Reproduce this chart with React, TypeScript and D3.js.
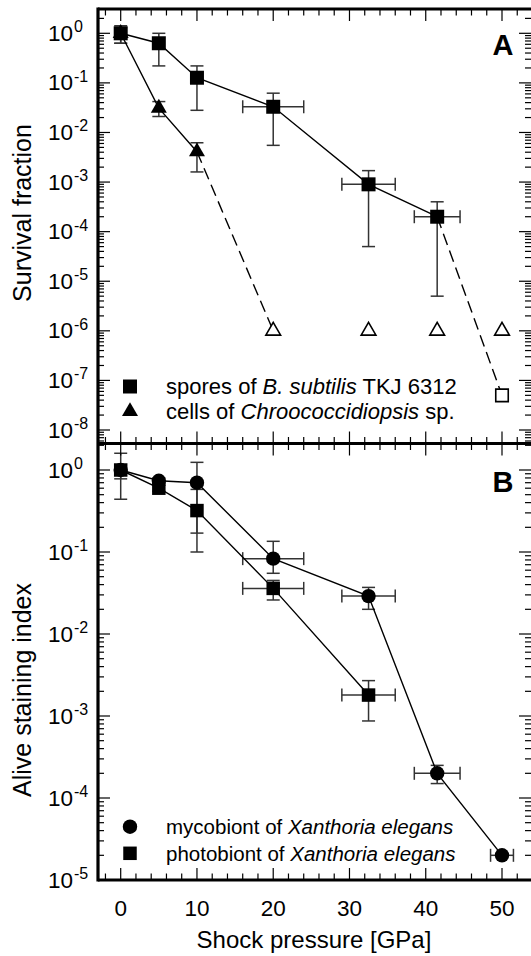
import React from "react";
import * as d3 from "d3";

// ---------- data ----------
const pressureTicks = [0, 10, 20, 30, 40, 50];

// Panel A: spores of B. subtilis TKJ 6312
const sporeP = [0, 5, 10, 20, 32.5, 41.5];
const sporeS = [1.0, 0.63, 0.127, 0.033, 0.0009, 0.0002];
const sporeLo = [0.63, 0.22, 0.028, 0.0055, 5e-5, 5e-6];
const sporeHi = [1.42, 1.0, 0.22, 0.062, 0.0017, 0.0004];
const sporePErr = [0, 0, 0, 4, 3.5, 3];
const sporeNDP = [50];
const sporeNDS = [5e-8];

// Panel A: cells of Chroococcidiopsis sp.
const cellP = [0, 5, 10];
const cellS = [1.0, 0.031, 0.0041];
const cellLo = [0.63, 0.021, 0.0016];
const cellHi = [1.3, 0.042, 0.0062];
const cellNDP = [20, 32.5, 41.5, 50];
const cellNDS = [1e-6, 1e-6, 1e-6, 1e-6];

// Panel B: mycobiont of Xanthoria elegans
const mycoP = [0, 5, 10, 20, 32.5, 41.5, 50];
const mycoS = [1.0, 0.74, 0.7, 0.083, 0.029, 0.0002, 0.00002];
const mycoLo = [0.78, 0.65, 0.17, 0.055, 0.02, 0.00015, 0.00002];
const mycoHi = [1.0, 0.8, 1.24, 0.135, 0.037, 0.00025, 0.00002];
const mycoPErr = [0, 0, 0, 4, 3.5, 3, 1.5];

// Panel B: photobiont of Xanthoria elegans
const photoP = [0, 5, 10, 20, 32.5];
const photoS = [1.0, 0.6, 0.32, 0.036, 0.0018];
const photoLo = [0.44, 0.55, 0.1, 0.026, 0.00087];
const photoHi = [1.6, 0.65, 0.58, 0.045, 0.0027];
const photoPErr = [0, 0, 0, 4, 3.5];

// ---------- layout ----------
const W = 531;
const H = 956;
const LEFT = 98;
const RIGHT = 531;
const TOP = 9;
const MID = 443.5;
const BOTTOM = 880;
const FONT = "'Liberation Sans', Arial, Helvetica, sans-serif";
const ERR = "#333";

const x = d3.scaleLinear().domain([0, 50]).range([120.7, 502]);
const yA = d3.scaleLog().domain([1, 1e-8]).range([33.3, 430]);
const yB = d3.scaleLog().domain([1, 1e-5]).range([470, 880]);

const isPow10 = (v: number) => Math.abs(Math.log10(v) - Math.round(Math.log10(v))) < 1e-9;

function YAxis({ y, top, bottom }: { y: any; top: number; bottom: number }) {
  const ext = d3.scaleLog().domain([y.invert(bottom), y.invert(top)]);
  const ticks = ext.ticks().filter((v: number) => y(v) > top + 1 && y(v) < bottom - 0.5);
  const majors = y.ticks().filter(isPow10);
  return (
    <g>
      {ticks.map((v: number, i: number) => {
        const yy = y(v);
        const len = isPow10(v) ? 12 : 6;
        return (
          <g key={i}>
            <line x1={LEFT} x2={LEFT + len} y1={yy} y2={yy} stroke="#000" strokeWidth={1.2} />
            <line x1={RIGHT} x2={RIGHT - len} y1={yy} y2={yy} stroke="#000" strokeWidth={1.2} />
          </g>
        );
      })}
      {majors.map((v: number, i: number) => {
        const yy = y(v);
        const e = Math.round(Math.log10(v));
        return (
          <g key={"l" + i} fontFamily={FONT}>
            <text x={73} y={yy + 7.5} fontSize={22.5} textAnchor="end">10</text>
            <text x={74} y={yy - 1} fontSize={16} textAnchor="start">{e === 0 ? "0" : "-" + Math.abs(e)}</text>
          </g>
        );
      })}
    </g>
  );
}

function XTicks() {
  const minor = d3.range(-2, 53, 2);
  return (
    <g>
      {minor.map((v, i) => {
        const xx = x(v);
        const major = v % 10 === 0;
        const len = major ? 12 : 6.5;
        return (
          <g key={i} stroke="#000" strokeWidth={1.2}>
            <line x1={xx} x2={xx} y1={TOP} y2={TOP + len} />
            <line x1={xx} x2={xx} y1={MID - len} y2={MID + len} />
            <line x1={xx} x2={xx} y1={BOTTOM} y2={BOTTOM - len} />
          </g>
        );
      })}
      {pressureTicks.map((v, i) => (
        <text key={"t" + i} x={x(v)} y={916} fontSize={22.5} fontFamily={FONT} textAnchor="middle">
          {v}
        </text>
      ))}
    </g>
  );
}

function ErrorBars({ px, py, lo, hi, pe, y }: any) {
  const cap = 6.5;
  return (
    <g stroke={ERR} strokeWidth={1.5} fill="none">
      {px.map((p: number, i: number) => {
        const cx = x(p);
        const cy = y(py[i]);
        const parts = [];
        if (lo[i] !== hi[i]) {
          const y1 = y(lo[i]);
          const y2 = y(hi[i]);
          parts.push(<line key="v" x1={cx} x2={cx} y1={y1} y2={y2} />);
          parts.push(<line key="c1" x1={cx - cap} x2={cx + cap} y1={y1} y2={y1} />);
          parts.push(<line key="c2" x1={cx - cap} x2={cx + cap} y1={y2} y2={y2} />);
        }
        if (pe && pe[i] > 0) {
          const x1 = x(p - pe[i]);
          const x2 = x(p + pe[i]);
          parts.push(<line key="h" x1={x1} x2={x2} y1={cy} y2={cy} />);
          parts.push(<line key="h1" x1={x1} x2={x1} y1={cy - cap} y2={cy + cap} />);
          parts.push(<line key="h2" x1={x2} x2={x2} y1={cy - cap} y2={cy + cap} />);
        }
        return <g key={i}>{parts}</g>;
      })}
    </g>
  );
}

function Markers({ px, py, y, type, size, fill }: any) {
  const path = d3.symbol().type(type).size(size)() as string;
  return (
    <g>
      {px.map((p: number, i: number) => (
        <path
          key={i}
          d={path}
          transform={`translate(${x(p)},${y(py[i])})`}
          fill={fill ? "#000" : "#fff"}
          stroke="#000"
          strokeWidth={fill ? 0 : 1.6}
        />
      ))}
    </g>
  );
}

function SeriesLine({ px, py, y, dash }: any) {
  const line = d3
    .line<number>()
    .x((_, i) => x(px[i]))
    .y((v) => y(v));
  return <path d={line(py) as string} fill="none" stroke="#000" strokeWidth={1.4} strokeDasharray={dash} />;
}

const SQ_A = 14 * 14;
const TRI = (Math.sqrt(3) / 4) * 16 * 16;
const SQ_B = 13.5 * 13.5;
const CIRC = Math.PI * 7.2 * 7.2;

export default function App() {
  const symTri = d3.symbolTriangle;
  const symSq = d3.symbolSquare;
  const symC = d3.symbolCircle;
  return (
    <svg width={W} height={H} style={{ position: "absolute", left: 0, top: 0, background: "#fff" }}>
      <rect x={0} y={0} width={W} height={H} fill="#fff" />
      {/* Panel A */}
      <SeriesLine px={[cellP[2], cellNDP[0]]} py={[cellS[2], cellNDS[0]]} y={yA} dash="12,6" />
      <SeriesLine px={[sporeP[5], sporeNDP[0]]} py={[sporeS[5], sporeNDS[0]]} y={yA} dash="12,6" />
      <ErrorBars px={sporeP} py={sporeS} lo={sporeLo} hi={sporeHi} pe={sporePErr} y={yA} />
      <ErrorBars px={cellP} py={cellS} lo={cellLo} hi={cellHi} pe={null} y={yA} />
      <SeriesLine px={sporeP} py={sporeS} y={yA} />
      <SeriesLine px={cellP} py={cellS} y={yA} />
      <Markers px={cellP} py={cellS} y={yA} type={symTri} size={TRI} fill />
      <Markers px={sporeP} py={sporeS} y={yA} type={symSq} size={SQ_A} fill />
      <Markers px={cellNDP} py={cellNDS} y={yA} type={symTri} size={TRI * 0.85} fill={false} />
      <Markers px={sporeNDP} py={sporeNDS} y={yA} type={symSq} size={12.5 * 12.5} fill={false} />

      {/* Panel B */}
      <ErrorBars px={mycoP} py={mycoS} lo={mycoLo} hi={mycoHi} pe={mycoPErr} y={yB} />
      <ErrorBars px={photoP} py={photoS} lo={photoLo} hi={photoHi} pe={photoPErr} y={yB} />
      <SeriesLine px={mycoP} py={mycoS} y={yB} />
      <SeriesLine px={photoP} py={photoS} y={yB} />
      <Markers px={mycoP} py={mycoS} y={yB} type={symC} size={CIRC} fill />
      <Markers px={photoP} py={photoS} y={yB} type={symSq} size={SQ_B} fill />

      {/* Axes */}
      <YAxis y={yA} top={TOP} bottom={MID} />
      <YAxis y={yB} top={MID} bottom={BOTTOM} />
      <XTicks />
      <g stroke="#000" strokeWidth={3.2} fill="none">
        <line x1={LEFT} x2={LEFT} y1={TOP - 1.6} y2={BOTTOM + 1.6} />
        <line x1={LEFT} x2={W} y1={TOP} y2={TOP} />
        <line x1={LEFT} x2={W} y1={MID} y2={MID} />
        <line x1={LEFT} x2={W} y1={BOTTOM} y2={BOTTOM} />
      </g>

      {/* Panel letters */}
      <text x={503} y={55} fontSize={29} fontWeight="bold" fontFamily={FONT} textAnchor="middle">A</text>
      <text x={503} y={492} fontSize={29} fontWeight="bold" fontFamily={FONT} textAnchor="middle">B</text>

      {/* Legend A */}
      <g fontFamily={FONT} fontSize={22}>
        <path d={d3.symbol().type(symSq).size(14 * 14)() as string} transform="translate(130,386.5)" fill="#000" />
        <text x={166} y={394}>
          spores of <tspan fontStyle="italic">B. subtilis</tspan> TKJ 6312
        </text>
        <path d={d3.symbol().type(symTri).size(TRI)() as string} transform="translate(130,411.5)" fill="#000" />
        <text x={166} y={419}>
          cells of <tspan fontStyle="italic">Chroococcidiopsis</tspan> sp.
        </text>
      </g>

      {/* Legend B */}
      <g fontFamily={FONT} fontSize={20.5}>
        <path d={d3.symbol().type(symC).size(CIRC)() as string} transform="translate(130,826.7)" fill="#000" />
        <text x={166} y={834}>
          mycobiont of <tspan fontStyle="italic">Xanthoria elegans</tspan>
        </text>
        <path d={d3.symbol().type(symSq).size(SQ_B)() as string} transform="translate(130,853.3)" fill="#000" />
        <text x={166} y={860.6}>
          photobiont of <tspan fontStyle="italic">Xanthoria elegans</tspan>
        </text>
      </g>

      {/* Axis titles */}
      <text x={314} y={948} fontSize={24} fontFamily={FONT} textAnchor="middle">Shock pressure [GPa]</text>
      <text transform="translate(31,213) rotate(-90)" fontSize={25} fontFamily={FONT} textAnchor="middle">Survival fraction</text>
      <text transform="translate(31,690) rotate(-90)" fontSize={25} fontFamily={FONT} textAnchor="middle">Alive staining index</text>
    </svg>
  );
}
